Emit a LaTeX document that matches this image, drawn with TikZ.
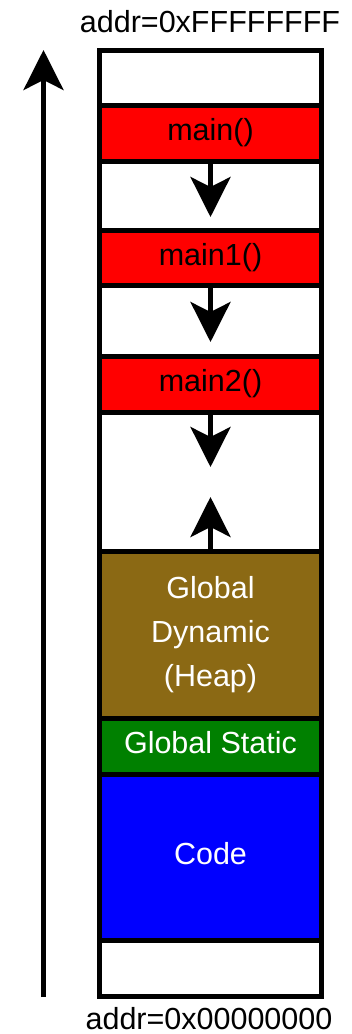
\documentclass[tikz,border=0pt]{standalone}
\usepackage{fontspec}
\setmainfont{Liberation Sans}
\usetikzlibrary{arrows.meta}
\definecolor{heapbrown}{RGB}{139,105,20}
\definecolor{gstatic}{RGB}{0,128,0}
\definecolor{codeblue}{RGB}{0,0,255}
\begin{document}
\begin{tikzpicture}[x=1pt,y=-1pt,
  seg/.style={draw=black, line width=5pt, minimum width=222pt, inner sep=0pt,
    outer sep=0pt, anchor=north, font=\fontsize{30.5}{36}\selectfont,
    text height=21.5pt, text depth=6.5pt},
  frame/.style={seg, fill=red, text=black},
  empty/.style={seg, fill=white},
  arr/.style={line width=4.5pt, -{Stealth[length=40pt,width=40pt,inset=10pt]}},
  lab/.style={font=\fontsize{30.5}{36}\selectfont, inner sep=0pt, anchor=base}]
\useasboundingbox (0,0) rectangle (351,1034);
% memory segments
\node[empty, minimum height=55pt] (top) at (210.5,50.5) {};
\node[frame, minimum height=55.5pt] (main) at (210.5,105.5) {main()};
\node[empty, minimum height=69pt] (gap1) at (210.5,161) {};
\node[frame, minimum height=55.5pt] (main1) at (210.5,230) {main1()};
\node[empty, minimum height=70.5pt] (gap2) at (210.5,285.5) {};
\node[frame, minimum height=56pt] (main2) at (210.5,356) {main2()};
\node[empty, minimum height=139pt] (gap3) at (210.5,412) {};
\node[seg, fill=heapbrown, text=white, minimum height=167pt, align=center,
  text height=, text depth=, font=\fontsize{30.5}{44}\selectfont] (heap) at (210.5,551)
  {Global\\Dynamic\\(Heap)};
\node[seg, fill=gstatic, text=white, minimum height=56pt] (gstat) at (210.5,718) {Global Static};
\node[seg, fill=codeblue, text=white, minimum height=166.5pt] (code) at (210.5,774) {Code};
\node[empty, minimum height=56pt] (bottom) at (210.5,940.5) {};
% growth arrows
\coordinate (a1) at (210.5,217);
\coordinate (a2) at (210.5,342);
\coordinate (a3) at (210.5,467);
\coordinate (a4) at (210.5,497);
\draw[arr] (main.south) -- (a1);
\draw[arr] (main1.south) -- (a2);
\draw[arr] (main2.south) -- (a3);
\draw[arr] (heap.north) -- (a4);
% address axis
\coordinate (lb) at (43.5,997);
\coordinate (lt) at (43.5,50);
\draw[arr] (lb) -- (lt);
% labels
\node[lab] (hi) at (210,32) {addr=0xFFFFFFFF};
\node[lab] (lo) at (209,1029) {addr=0x00000000};
\end{tikzpicture}
\end{document}
